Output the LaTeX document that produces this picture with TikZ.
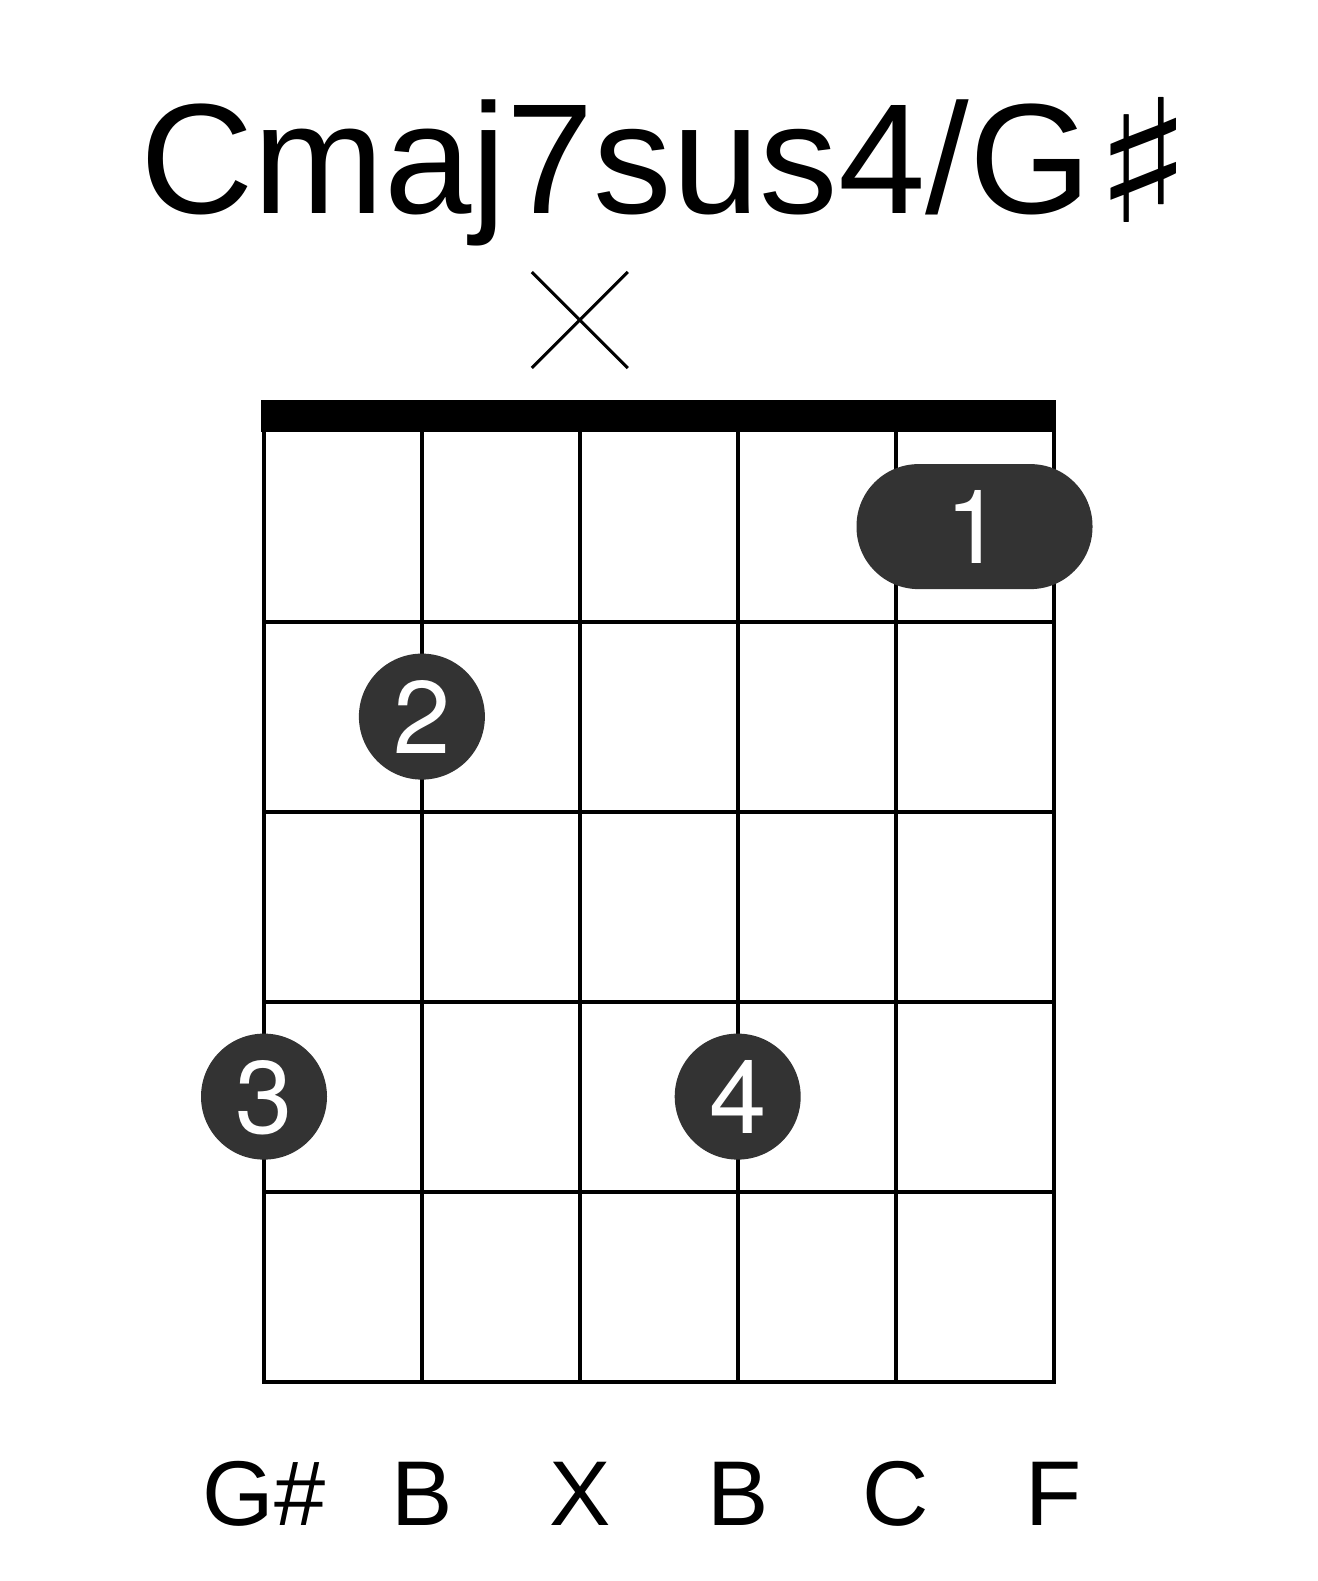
\documentclass[tikz,border=0pt]{standalone}
\usepackage{fontspec}
\usetikzlibrary{calc}
\setmainfont{Liberation Sans}
\newfontfamily\symfont{DejaVu Sans}
\newfontfamily\numfont{TeX Gyre Heros}
\definecolor{dotc}{HTML}{333333}
\tikzset{
  gridline/.style={line width=4pt, line cap=rect},
  fingerdot/.style={circle, fill=dotc, minimum size=126pt, inner sep=0pt},
  barredot/.style={rounded corners=62pt, fill=dotc, minimum width=236pt, minimum height=125pt, inner sep=0pt},
  fingernum/.style={anchor=base, text=white, font=\numfont\fontsize{103}{110}\selectfont, inner sep=0pt},
  notelabel/.style={anchor=base, font=\fontsize{92}{100}\selectfont, inner sep=0pt},
  mutemark/.style={line width=3pt}
}
\begin{document}
\begin{tikzpicture}[x=1pt,y=-1pt]
\useasboundingbox (0,0) rectangle (1317,1581);
% title
\node[anchor=base, inner sep=0pt] (title) at (667,214) {\fontsize{157}{164}\selectfont Cmaj7sus4/G\kern2pt\raisebox{-9pt}{\scalebox{1.32}[1.09]{\symfont ♯}}};
% nut
\fill (261,400) rectangle (1056,432);
% strings
\foreach \i in {0,...,5} {
  \draw[gridline] ({264+157.9*\i},431.6) -- ({264+157.9*\i},1381.6);
}
% frets
\foreach \j in {1,...,5} {
  \draw[gridline] (264,{431.6+190*\j}) -- (1053.5,{431.6+190*\j});
}
% mute mark
\coordinate (mc) at (579.8,320);
\draw[mutemark] ($(mc)+(-48,-48)$) -- ($(mc)+(48,48)$);
\draw[mutemark] ($(mc)+(-48,48)$) -- ($(mc)+(48,-48)$);
% finger dots
\node[barredot] (f1) at (974.5,526.6) {};
\node[fingernum] (n1) at (974.5,563.5) {1};
\node[fingerdot] (f2) at (421.9,716.6) {};
\node[fingernum] (n2) at (421.9,753.5) {2};
\node[fingerdot] (f3) at (264,1096.6) {};
\node[fingernum] (n3) at (264,1133.5) {3};
\node[fingerdot] (f4) at (737.7,1096.6) {};
\node[fingernum] (n4) at (737.7,1133.5) {4};
% note labels
\node[notelabel] (l1) at (264,1525) {G\#};
\node[notelabel] (l2) at (421.9,1525) {B};
\node[notelabel] (l3) at (579.8,1525) {X};
\node[notelabel] (l4) at (737.7,1525) {B};
\node[notelabel] (l5) at (895.6,1525) {C};
\node[notelabel] (l6) at (1053.5,1525) {F};
\end{tikzpicture}
\end{document}
